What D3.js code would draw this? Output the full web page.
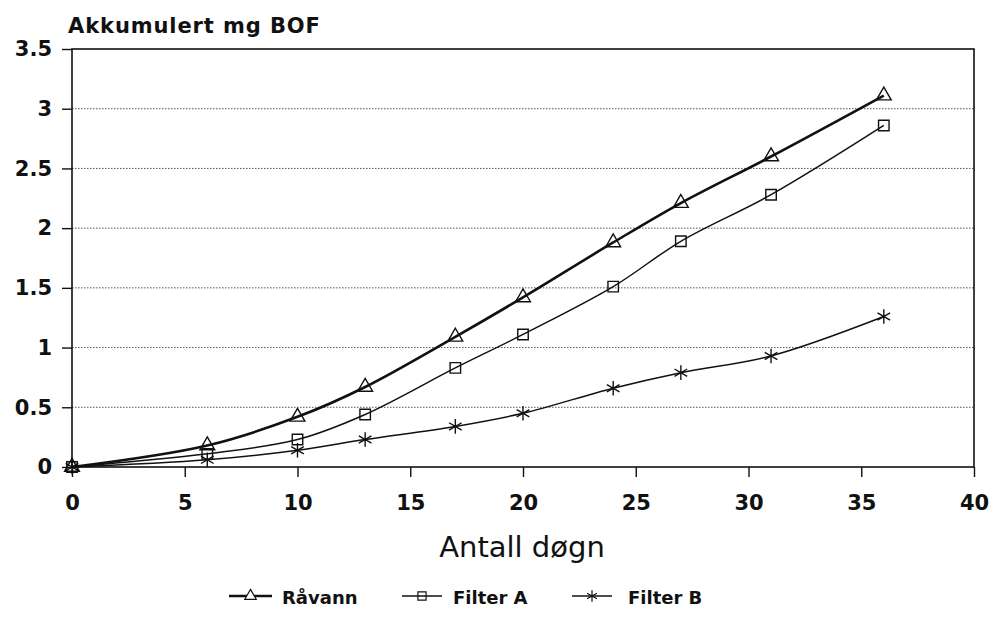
<!DOCTYPE html>
<html>
<head>
<meta charset="utf-8">
<script src="https://cdnjs.cloudflare.com/ajax/libs/d3/7.8.5/d3.min.js"></script>
<style>
  body { margin: 0; background: #fff; }
  svg { display: block; }
  text { font-family: "DejaVu Sans", sans-serif; fill: #111; }
</style>
</head>
<body>
<svg id="chart" width="994" height="619"></svg>
<script>
// days
var days = [0, 6, 10, 13, 17, 20, 24, 27, 31, 36];
// accumulated mg BOF
var ravann  = [0, 0.18, 0.42, 0.67, 1.09, 1.42, 1.88, 2.21, 2.60, 3.11];
var filterA = [0, 0.11, 0.23, 0.44, 0.83, 1.11, 1.51, 1.89, 2.28, 2.86];
var filterB = [0, 0.06, 0.14, 0.23, 0.34, 0.45, 0.66, 0.79, 0.93, 1.26];

var seriesNames = ['Råvann', 'Filter A', 'Filter B'];
var xTicks = [0, 5, 10, 15, 20, 25, 30, 35, 40];
var yTicks = [0, 0.5, 1, 1.5, 2, 2.5, 3, 3.5];

var svg = d3.select('#chart');

var plotL = 72, plotR = 974, plotT = 49, plotB = 467;

var x = d3.scaleLinear().domain([0, 40]).range([plotL, plotR]);
var y = d3.scaleLinear().domain([0, 3.5]).range([plotB, plotT]);

// dotted grid lines
svg.append('g').attr('class', 'grid')
  .selectAll('line')
  .data(yTicks.filter(function(d){ return d > 0 && d < 3.5; }))
  .enter().append('line')
  .attr('x1', plotL).attr('x2', plotR)
  .attr('y1', function(d){ return y(d); })
  .attr('y2', function(d){ return y(d); })
  .attr('stroke', '#555')
  .attr('stroke-width', 1)
  .attr('stroke-dasharray', '1.5,1.5');

// frame
svg.append('rect')
  .attr('x', plotL).attr('y', plotT)
  .attr('width', plotR - plotL).attr('height', plotB - plotT)
  .attr('fill', 'none')
  .attr('stroke', '#111')
  .attr('stroke-width', 1.6);

// axes
var yAxis = svg.append('g')
  .attr('transform', 'translate(' + plotL + ',0)')
  .call(d3.axisLeft(y).tickValues(yTicks).tickSize(10).tickPadding(10)
    .tickFormat(function(d){ return String(d); }));
yAxis.select('.domain').remove();
yAxis.selectAll('line').attr('stroke', '#111').attr('stroke-width', 1.4);
yAxis.selectAll('text')
  .attr('font-family', '"DejaVu Sans", sans-serif')
  .attr('font-weight', 'bold')
  .attr('font-size', 21)
  .attr('fill', '#111');

var xAxis = svg.append('g')
  .attr('transform', 'translate(0,' + plotB + ')')
  .call(d3.axisBottom(x).tickValues(xTicks).tickSize(10).tickPadding(18)
    .tickFormat(function(d){ return String(d); }));
xAxis.select('.domain').remove();
xAxis.selectAll('line').attr('stroke', '#111').attr('stroke-width', 1.4);
xAxis.selectAll('text')
  .attr('font-family', '"DejaVu Sans", sans-serif')
  .attr('font-weight', 'bold')
  .attr('font-size', 21)
  .attr('fill', '#111');

// titles
svg.append('text')
  .attr('x', 68).attr('y', 33)
  .attr('font-weight', 'bold')
  .attr('font-size', 21)
  .attr('letter-spacing', 0.9)
  .text('Akkumulert mg BOF');

svg.append('text')
  .attr('x', 522).attr('y', 557)
  .attr('text-anchor', 'middle')
  .attr('font-size', 29)
  .text('Antall døgn');

// series
var series = [
  { name: seriesNames[0], values: ravann,  width: 2.6, symbol: d3.symbolTriangle, size: 95 },
  { name: seriesNames[1], values: filterA, width: 1.5, symbol: d3.symbolSquare,   size: 110 },
  { name: seriesNames[2], values: filterB, width: 1.5, symbol: d3.symbolAsterisk, size: 150 }
];

// smoothed lines like the original
var line = d3.line()
  .x(function(d){ return x(d[0]); })
  .y(function(d){ return y(d[1]); })
  .curve(d3.curveCatmullRom.alpha(0.5));

series.forEach(function(s){
  var pts = days.map(function(d, i){ return [d, s.values[i]]; });
  svg.append('path')
    .attr('d', line(pts))
    .attr('fill', 'none')
    .attr('stroke', '#111')
    .attr('stroke-width', s.width);

  svg.append('g').selectAll('path')
    .data(pts)
    .enter().append('path')
    .attr('transform', function(d){ return 'translate(' + x(d[0]) + ',' + y(d[1]) + ')'; })
    .attr('d', d3.symbol().type(s.symbol).size(s.size))
    .attr('fill', 'none')
    .attr('stroke', '#111')
    .attr('stroke-width', 1.4);
});

// legend
var legendY = 596;
var legendPos = [
  { x1: 229, x2: 272, tx: 282 },
  { x1: 402, x2: 442, tx: 453 },
  { x1: 572, x2: 612, tx: 628 }
];
series.forEach(function(s, i){
  var p = legendPos[i];
  var g = svg.append('g');
  g.append('line')
    .attr('x1', p.x1).attr('x2', p.x2)
    .attr('y1', legendY).attr('y2', legendY)
    .attr('stroke', '#111')
    .attr('stroke-width', s.width);
  g.append('path')
    .attr('transform', 'translate(' + ((p.x1 + p.x2) / 2) + ',' + legendY + ')')
    .attr('d', d3.symbol().type(s.symbol).size(s.size * 0.6))
    .attr('fill', i === 0 ? '#fff' : 'none')
    .attr('stroke', '#111')
    .attr('stroke-width', 1.2);
  g.append('text')
    .attr('x', p.tx).attr('y', legendY + 8)
    .attr('font-weight', 'bold')
    .attr('font-size', 18)
    .text(s.name);
});
</script>
</body>
</html>
